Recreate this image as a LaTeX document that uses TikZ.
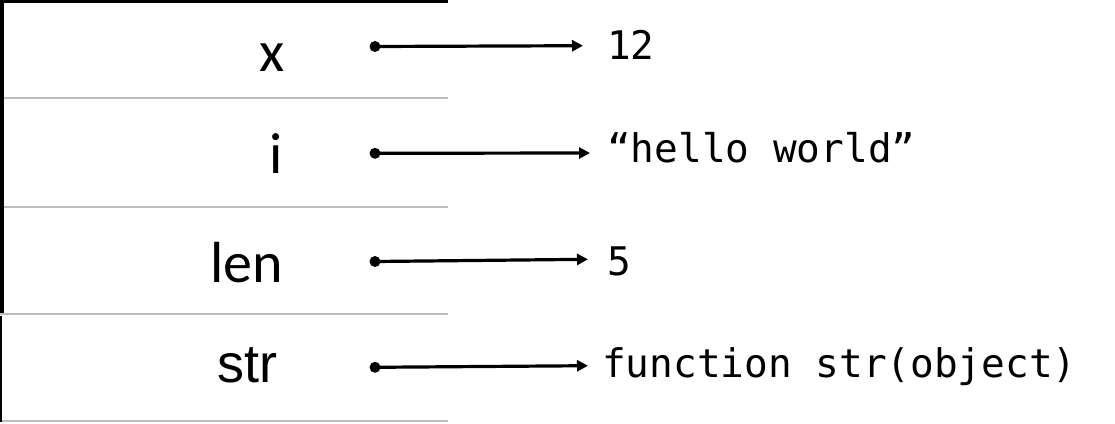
\documentclass[tikz,border=0pt]{standalone}
\usepackage{fontspec}
\setmainfont{Carlito}
\newfontfamily\arialfont{Liberation Sans}
\newfontfamily\monofont{DejaVu Sans Mono}
\usetikzlibrary{arrows.meta}
\definecolor{gridgray}{HTML}{BCBCBC}
\begin{document}
\begin{tikzpicture}[x=1pt,y=-1pt,
  namelbl/.style={anchor=base east,inner sep=0pt,font=\fontsize{58}{60}\selectfont},
  strlbl/.style={anchor=base east,inner sep=0pt,font=\arialfont\fontsize{54}{56}\selectfont},
  vallbl/.style={anchor=base west,inner sep=0pt,font=\monofont\fontsize{39.4}{42}\selectfont},
  dotnode/.style={circle,fill=black,inner sep=0pt,minimum size=11pt},
  arr/.style={line width=3.2pt,-{Triangle[length=11pt,width=11pt]}},
  sepline/.style={draw=gridgray,line width=1.8pt},
  frameline/.style={draw=black,line width=3.5pt}
]
\useasboundingbox (0,0) rectangle (1115,423);
% table
\draw[sepline] (0,97.7) -- (448,97.7);
\draw[sepline] (0,206.7) -- (448,206.7);
\draw[sepline] (0,314) -- (448,314);
\draw[sepline] (0,420.7) -- (448,420.7);
\draw[frameline] (0,1.5) -- (448,1.5);
\draw[draw=black,line width=4pt] (2,0) -- (2,312.5);
\draw[draw=black,line width=1.5pt] (0.75,315.5) -- (0.75,421.5);
% labels
\node[namelbl] (nx) at (285,71) {x};
\node[namelbl] (ni) at (283,173) {i};
\node[namelbl] (nlen) at (283,282) {len};
\node[strlbl] (nstr) at (278,382) {str};
% values
\node[vallbl] (v1) at (607,59) {12};
\node[vallbl] (v2) at (607,162) {“hello world”};
\node[vallbl] (v3) at (607,275) {5};
\node[vallbl] (v4) at (602,377) {function str(object)};
% dots
\node[dotnode] (d1) at (375,46.5) {};
\node[dotnode] (d2) at (375,153.3) {};
\node[dotnode] (d3) at (375,261.5) {};
\node[dotnode] (d4) at (375,367.3) {};
% arrow tips
\coordinate (t1) at (583,45.7);
\coordinate (t2) at (590,153);
\coordinate (t3) at (588,259.3);
\coordinate (t4) at (588,365.7);
\draw[arr] (d1.center) -- (t1);
\draw[arr] (d2.center) -- (t2);
\draw[arr] (d3.center) -- (t3);
\draw[arr] (d4.center) -- (t4);
\end{tikzpicture}
\end{document}
